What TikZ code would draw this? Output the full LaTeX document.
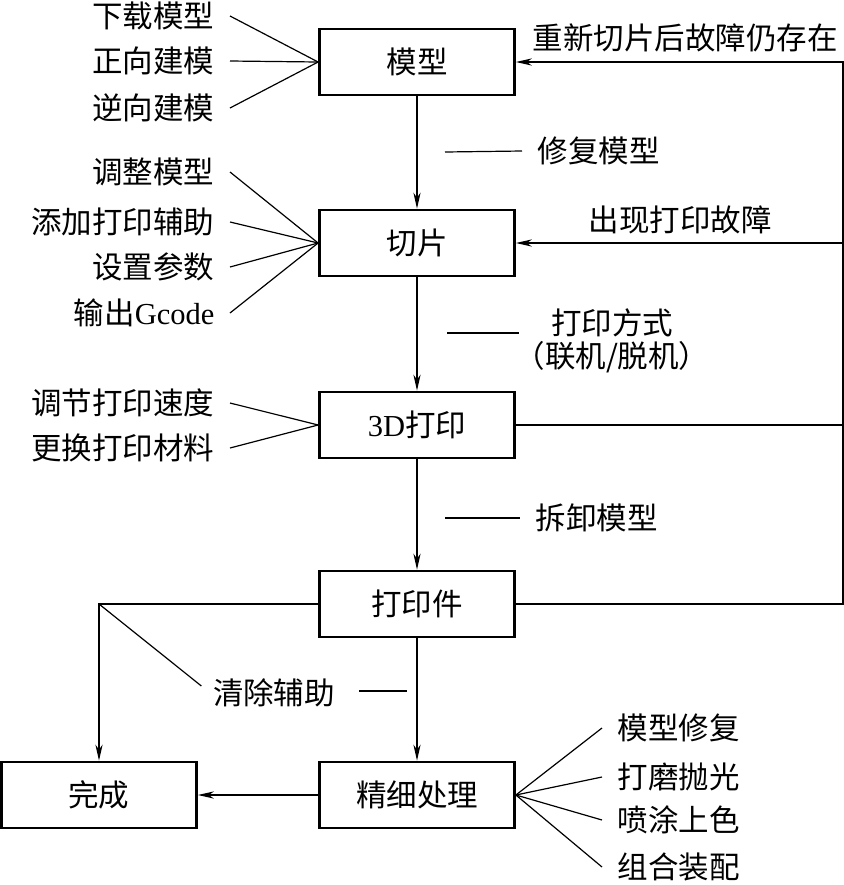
\documentclass[tikz,border=0pt]{standalone}
\usepackage{fontspec}
\setmainfont{Liberation Serif}
\newfontfamily\cjk{Noto Sans CJK SC}
\usetikzlibrary{arrows.meta}

\tikzset{
  stage/.style={draw,line width=1.4pt,minimum width=97.5pt,minimum height=33pt,inner sep=0pt},
  item/.style={inner xsep=7.5pt,inner ysep=1pt},
  flow/.style={-{Stealth[length=8pt,width=3.6pt,inset=2.5pt]}},
}
\def\xmid{417}

\begin{document}
\begin{tikzpicture}[x=0.5pt,y=-0.5pt,line width=0.6pt,font=\cjk\fontsize{15.25}{16.5}\selectfont]
    \useasboundingbox (0,0) rectangle (844,885);

    % main stages
    \node[stage] (model) at (\xmid,62) {模型};
    \node[stage] (slice) at (\xmid,243) {切片};
    \node[stage] (print) at (\xmid,425) {{\rmfamily 3D}打印};
    \node[stage] (part) at (\xmid,604) {打印件};
    \node[stage] (finish) at (\xmid,795) {精细处理};
    \node[stage] (done) at (99,795) {完成};

    \draw[flow] (model) -- (slice);
    \draw[flow] (slice) -- (print);
    \draw[flow] (print) -- (part);
    \draw[flow] (part) -- (finish);
    \draw[flow] (finish) -- (done);

    % feedback loop on the right
    \coordinate (loop) at (843,604);
    \draw[flow] (part.east) -- (loop) |- (model.east);
    \draw[flow] (loop |- slice.east) -- (slice.east);
    \draw (print.east) -- (print.east -| loop);
    \node at (685,38) {重新切片后故障仍存在};
    \node at (680,220) {出现打印故障};

    % inputs of the model
    \node[item,anchor=east] (m1) at (230,16) {下载模型};
    \node[item,anchor=east] (m2) at (230,61) {正向建模};
    \node[item,anchor=east] (m3) at (230,108) {逆向建模};
    \foreach \i in {m1,m2,m3} \draw (\i.east) -- (model.west);

    % inputs of the slicing
    \node[item,anchor=east] (s1) at (230,172) {调整模型};
    \node[item,anchor=east] (s2) at (230,222) {添加打印辅助};
    \node[item,anchor=east] (s3) at (230,267) {设置参数};
    \node[item,anchor=east] (s4) at (230,313) {输出{\rmfamily Gcode}};
    \foreach \i in {s1,s2,s3,s4} \draw (\i.east) -- (slice.west);

    % inputs of the printing
    \node[item,anchor=east] (p1) at (230,403) {调节打印速度};
    \node[item,anchor=east] (p2) at (230,448) {更换打印材料};
    \foreach \i in {p1,p2} \draw (\i.east) -- (print.west);

    % steps of the finishing
    \node[item,anchor=west] (f1) at (602,728) {模型修复};
    \node[item,anchor=west] (f2) at (602,777) {打磨抛光};
    \node[item,anchor=west] (f3) at (602,820) {喷涂上色};
    \node[item,anchor=west] (f4) at (602,867) {组合装配};
    \foreach \i in {f1,f2,f3,f4} \draw (finish.east) -- (\i.west);

    % labels of the arrows
    \node[item,anchor=west] (fix) at (522,151) {修复模型};
    \draw (445,152) -- (fix.west);
    \node[align=center,font=\cjk\fontsize{15.25}{16.5}\selectfont] (mode) at (612,341) {打印方式\\（联机/脱机）};
    \coordinate (lead) at (447,333);
    \draw (lead) -- ++(72,0);
    \node[item,anchor=west] (remove) at (520,518) {拆卸模型};
    \draw (445,518) -- (remove.west);

    % cleaning goes straight to the end
    \coordinate (corner) at (done.north |- part.west);
    \draw[flow] (part.west) -- (corner) -- (done.north);
    \node[inner xsep=5.5pt] (clean) at (274,693) {清除辅助};
    \draw (corner) -- ([yshift=3.5pt]clean.west);
    \draw (359,691) -- (407,691);

\end{tikzpicture}
\end{document}
